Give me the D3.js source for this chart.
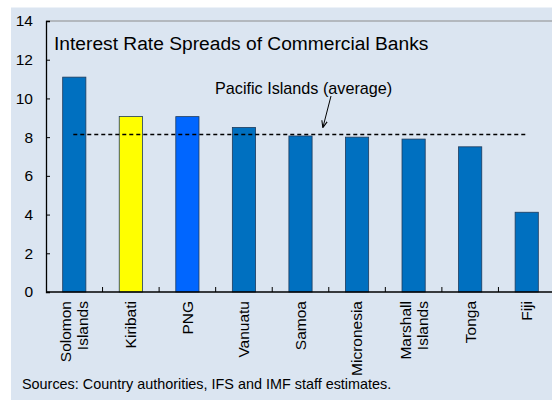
<!DOCTYPE html>
<html>
<head>
<meta charset="utf-8">
<script src="https://cdn.jsdelivr.net/npm/d3@7"></script>
<style>
  body { margin: 0; background: #fff; }
  text { font-family: "Liberation Sans", Arial, sans-serif; fill: #000; }
</style>
</head>
<body>
<div id="container"></div>
<script>
let countries = [["Solomon", "Islands"], ["Kiribati"], ["PNG"], ["Vanuatu"], ["Samoa"],
                 ["Micronesia"], ["Marshall", "Islands"], ["Tonga"], ["Fiji"]];
let spreads = [11.1, 9.07, 9.06, 8.5, 8.06, 8.0, 7.9, 7.5, 4.12];
let barColors = ["#0070c0", "#ffff00", "#0066ff", "#0070c0", "#0070c0",
                 "#0070c0", "#0070c0", "#0070c0", "#0070c0"];
let average = 8.14;
let yTicks = [0, 2, 4, 6, 8, 10, 12, 14];

let margin = {top: 21, left: 46},
    width = 555 - margin.left,
    height = 292 - margin.top;

let svg = d3.select("#container")
            .append("svg")
              .attr("width", 552)
              .attr("height", 400);

// light blue panel
svg.append("rect")
    .attr("x", 11).attr("y", 7.5)
    .attr("width", 541).attr("height", 393)
    .attr("fill", "#dbe5f1");

let graph = svg.append("g")
               .attr("transform", "translate(" + margin.left + "," + margin.top + ")");

let xScale = d3.scaleBand()
               .domain(d3.range(countries.length))
               .range([0, width])
               .paddingInner(0.59)
               .paddingOuter(0.295);

let yScale = d3.scaleLinear()
               .domain([0, 14])
               .range([height, 0]);

// top border
graph.append("line")
    .attr("x1", 0).attr("x2", 510)
    .attr("y1", 0).attr("y2", 0)
    .attr("stroke", "#8c8c8c").attr("stroke-width", 1.2);

// bars
graph.selectAll(".bar")
    .data(spreads)
    .enter().append("rect")
      .attr("class", "bar")
      .attr("x", (d, i) => xScale(i))
      .attr("y", d => yScale(d))
      .attr("width", xScale.bandwidth())
      .attr("height", d => height - yScale(d))
      .attr("fill", (d, i) => barColors[i])
      .attr("stroke", "#1f3b5c")
      .attr("stroke-width", 0.8);

// y axis
let yAxis = d3.axisLeft(yScale).tickValues(yTicks).tickSize(-4).tickPadding(13);
let yAxisGroup = graph.append("g").call(yAxis);
yAxisGroup.select(".domain").attr("stroke", "#000").attr("stroke-width", 1.3);
yAxisGroup.selectAll(".tick line").attr("stroke", "#000");
yAxisGroup.selectAll("text")
    .style("font-size", "15.5px")
    .style("font-family", "Liberation Sans, Arial, sans-serif");

// x axis: baseline and ticks between categories
graph.append("line")
    .attr("x1", 0).attr("x2", 510)
    .attr("y1", height).attr("y2", height)
    .attr("stroke", "#000").attr("stroke-width", 1.3);

let step = xScale.step();
let boundaries = d3.range(1, countries.length).map(i => xScale(i) - step * 0.295);
graph.selectAll(".xtick")
    .data(boundaries)
    .enter().append("line")
      .attr("x1", d => d).attr("x2", d => d)
      .attr("y1", height).attr("y2", height - 5)
      .attr("stroke", "#000");

// category labels, rotated
let labels = graph.selectAll(".xlabel")
    .data(countries)
    .enter().append("g")
      .attr("transform", (d, i) => "translate(" + (xScale(i) + xScale.bandwidth() / 2) + "," + (height + 9) + ") rotate(-90)");

labels.each(function(d) {
  let g = d3.select(this);
  d.forEach(function(line, k) {
    let off = (k - (d.length - 1) / 2) * 17;
    g.append("text")
      .attr("x", 0)
      .attr("y", off)
      .attr("dy", "0.35em")
      .attr("text-anchor", "end")
      .style("font-size", "15.5px")
      .text(line);
  });
});

// average line
graph.append("line")
    .attr("x1", xScale(0) + xScale.bandwidth() / 2 - 1)
    .attr("x2", 481)
    .attr("y1", yScale(average)).attr("y2", yScale(average))
    .attr("stroke", "#000")
    .attr("stroke-width", 1.5)
    .attr("stroke-dasharray", "4,3");

// title
graph.append("text")
    .attr("x", 8).attr("y", 29)
    .style("font-size", "19.2px")
    .text("Interest Rate Spreads of Commercial Banks");

// annotation with arrow
svg.append("defs").append("marker")
    .attr("id", "arrow")
    .attr("viewBox", "0 0 10 10")
    .attr("refX", 9).attr("refY", 5)
    .attr("markerWidth", 7).attr("markerHeight", 7)
    .attr("orient", "auto")
  .append("path")
    .attr("d", "M0,1 L10,5 L0,9")
    .attr("fill", "none")
    .attr("stroke", "#000")
    .attr("stroke-width", 1.5);

svg.append("text")
    .attr("x", 215).attr("y", 94)
    .style("font-size", "16.2px")
    .text("Pacific Islands (average)");

svg.append("line")
    .attr("x1", 331).attr("y1", 96)
    .attr("x2", 323).attr("y2", 127)
    .attr("stroke", "#000")
    .attr("stroke-width", 1)
    .attr("marker-end", "url(#arrow)");

// source note
svg.append("text")
    .attr("x", 22).attr("y", 389)
    .style("font-size", "14.4px")
    .text("Sources: Country authorities, IFS and IMF staff estimates.");
</script>
</body>
</html>
